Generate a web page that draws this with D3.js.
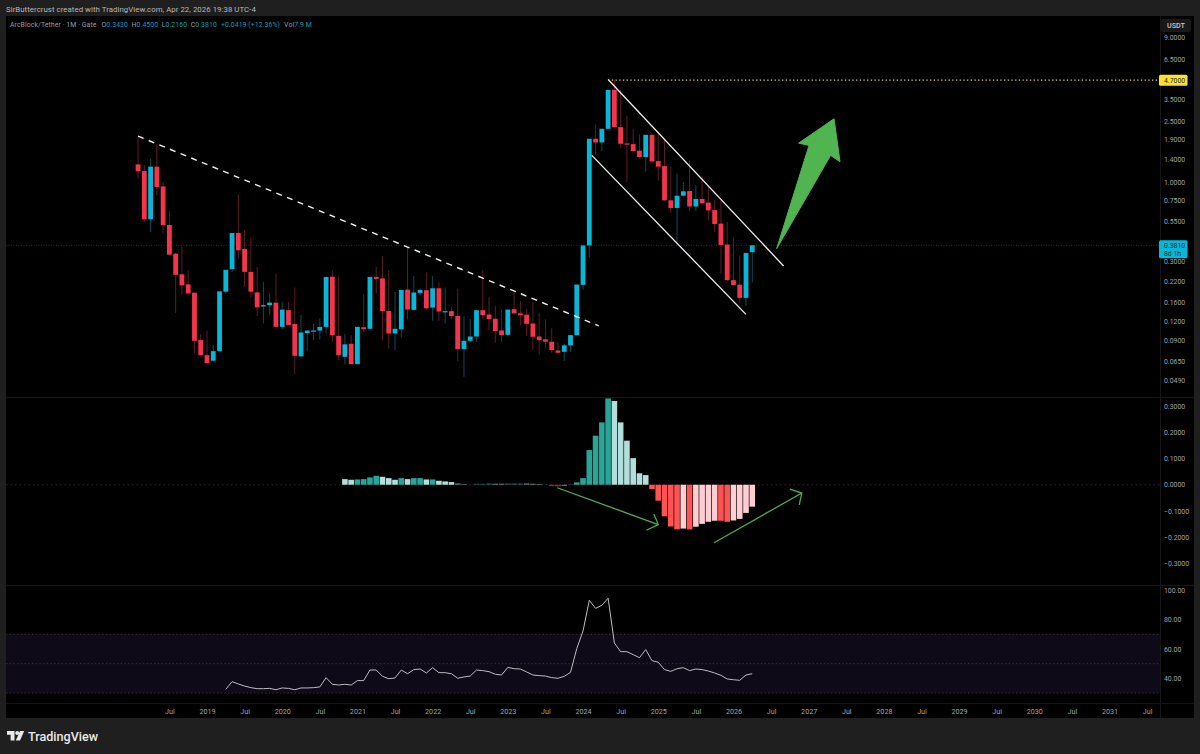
<!DOCTYPE html>
<html>
<head>
<meta charset="utf-8">
<script src="https://cdn.jsdelivr.net/npm/d3@7"></script>
<style>
  html, body { margin: 0; padding: 0; background: #1f1f1f; }
  svg { display: block; }
  text { font-family: Roboto, "Liberation Sans", sans-serif; }
</style>
</head>
<body>
<div id="chart"></div>
<script>
// Monthly candles, index 0 = Feb 2018, index 98 = Apr 2026
const candleOpen = [1.305,1.179,0.566,1.260,0.933,0.519,0.335,0.245,0.210,0.185,0.0900,0.0715,0.0657,0.0760,0.188,0.265,0.459,0.360,0.254,0.186,0.150,0.153,0.159,0.110,0.142,0.115,0.0702,0.100,0.103,0.104,0.110,0.236,0.0960,0.0698,0.0850,0.0624,0.1094,0.1068,0.2354,0.230,0.140,0.0995,0.106,0.194,0.1425,0.1846,0.1922,0.1475,0.198,0.1383,0.1397,0.130,0.0784,0.089,0.095,0.1418,0.1328,0.1245,0.1042,0.0975,0.144,0.135,0.1325,0.1158,0.095,0.0910,0.0877,0.0768,0.0752,0.083,0.097,0.2085,0.380,1.927,1.822,2.243,4.058,2.30,1.795,1.777,1.606,1.458,2.047,1.372,1.272,0.755,0.672,0.810,0.870,0.687,0.771,0.729,0.651,0.530,0.385,0.224,0.209,0.171,0.343];
const candleHigh = [1.996,1.298,1.422,1.768,0.997,0.642,0.339,0.372,0.260,0.185,0.0984,0.104,0.0834,0.0760,0.218,0.295,0.825,0.478,0.428,0.274,0.218,0.183,0.248,0.160,0.160,0.200,0.132,0.105,0.115,0.125,0.128,0.260,0.237,0.0984,0.0970,0.0922,0.181,0.197,0.274,0.322,0.2605,0.1875,0.143,0.372,0.238,0.197,0.252,0.239,0.218,0.200,0.149,0.197,0.130,0.1238,0.135,0.2605,0.1737,0.1515,0.1432,0.1295,0.1893,0.163,0.1454,0.161,0.1362,0.1232,0.1074,0.0877,0.0855,0.0834,0.113,0.311,0.466,2.396,2.08,2.994,4.73,4.06,2.745,2.243,2.047,1.786,2.08,2.08,1.927,1.272,1.133,0.997,1.386,0.948,1.087,0.925,0.755,0.755,0.543,0.432,0.327,0.235,0.35,0.45];
const candleLow = [1.049,0.544,0.466,0.814,0.455,0.326,0.136,0.180,0.183,0.0734,0.0715,0.0622,0.0650,0.0760,0.183,0.254,0.311,0.202,0.172,0.130,0.116,0.132,0.110,0.106,0.113,0.0535,0.0698,0.0760,0.0900,0.0910,0.0995,0.0877,0.0664,0.0622,0.0624,0.0624,0.102,0.106,0.183,0.0900,0.0790,0.0772,0.0937,0.1232,0.1418,0.1778,0.1418,0.1208,0.1208,0.1158,0.1232,0.0653,0.0515,0.0877,0.0877,0.1232,0.1047,0.0864,0.0877,0.097,0.135,0.113,0.0955,0.0772,0.0723,0.079,0.0742,0.0727,0.0656,0.0752,0.097,0.194,0.316,1.495,1.598,2.243,2.30,1.677,0.997,1.59,1.444,1.173,1.351,1.02,0.748,0.623,0.40,0.802,0.639,0.639,0.718,0.557,0.466,0.247,0.221,0.208,0.159,0.151,0.216];
const candleClose = [1.179,0.566,1.260,0.925,0.517,0.330,0.243,0.207,0.183,0.0890,0.0715,0.0633,0.0760,0.189,0.262,0.459,0.353,0.254,0.188,0.148,0.153,0.159,0.110,0.143,0.113,0.0708,0.101,0.104,0.104,0.110,0.235,0.0970,0.0715,0.0843,0.0624,0.110,0.1063,0.2354,0.2285,0.1397,0.0995,0.1068,0.1931,0.1432,0.1856,0.1931,0.146,0.198,0.139,0.1397,0.1295,0.0784,0.0890,0.095,0.1418,0.1314,0.1238,0.1031,0.097,0.1432,0.135,0.1314,0.1152,0.0946,0.0900,0.0877,0.0772,0.0742,0.0830,0.097,0.2095,0.380,1.927,1.822,2.243,4.058,2.30,1.786,1.777,1.598,1.458,2.047,1.365,1.26,0.755,0.672,0.810,0.866,0.687,0.771,0.722,0.648,0.527,0.383,0.224,0.208,0.171,0.339,0.381];

// MACD histogram, first bar is index 33
const macdStart = 33;
const macdValues = [0.0216,0.019,0.0203,0.0216,0.028,0.0343,0.0305,0.0254,0.019,0.0254,0.0216,0.0254,0.0254,0.0203,0.0203,0.0152,0.0127,0.0102,0.0051,0.0025,0.0004,0.0038,0.0038,0.005,0.004,0.004,0.005,0.005,0.005,0.005,0.004,0.0025,0.0012,-0.005,-0.006,-0.004,-0.001,0.009,0.0254,0.133,0.188,0.239,0.331,0.321,0.239,0.169,0.102,0.044,0.037,-0.0165,-0.061,-0.121,-0.160,-0.171,-0.168,-0.171,-0.161,-0.150,-0.142,-0.138,-0.138,-0.142,-0.137,-0.131,-0.108,-0.084];
const macdShade = ["f","f","s","s","s","s","f","f","f","s","f","s","s","f","s","f","f","f","f","f","s","s","s","s","f","f","s","s","s","f","f","f","s","s","s","f","f","s","s","s","s","s","s","f","f","f","f","f","f","s","s","s","s","s","f","s","f","f","f","f","s","s","f","f","f","f"];

// RSI, first point is index 14
const rsiStart = 14;
const rsiValues = [32.6,37.8,36.2,34.8,33.7,33.0,33.0,33.2,32.3,33.5,33.2,32.3,33.5,33.5,33.7,34.2,40.5,36.0,35.5,36.0,35.5,38.5,38.5,45.7,45.7,41.4,39.8,40.3,45.7,43.2,46.0,46.4,43.7,47.3,43.9,43.9,43.2,40.1,41.0,41.6,45.7,45.3,44.6,42.8,42.3,47.5,46.6,46.4,44.4,42.3,41.9,41.6,40.5,40.1,41.4,44.1,60.3,72.3,93.2,87.7,89.8,94.6,64.1,58.2,58.2,56.2,54.1,59.6,52.1,51.0,46.0,44.8,46.6,47.3,45.3,46.4,46.0,45.0,43.7,42.1,39.6,39.1,38.7,42.3,43.2];

// Tick labels
const timeTickIndex = [5,11,17,23,29,35,41,47,53,59,65,71,77,83,89,95,101,107,113,119,125,131,137,143,149,155,161];
const timeTickLabels = ["Jul","2019","Jul","2020","Jul","2021","Jul","2022","Jul","2023","Jul","2024","Jul","2025","Jul","2026","Jul","2027","Jul","2028","Jul","2029","Jul","2030","Jul","2031","Jul"];
const priceTicks = [9,6.5,4.8,3.5,2.5,1.9,1.4,1,0.75,0.55,0.3,0.22,0.16,0.12,0.09,0.065,0.049];
const macdTicks = [0.3,0.2,0.1,0,-0.1,-0.2,-0.3];
const rsiTicks = [100,80,60,40];
const rsiBands = [70,50,30];

// Drawings, as [month index, price] or [month index, macd]
const descendingLine = [[0,2.006],[73.5,0.1118]];
const channelUpper = [[75,4.75],[103,0.278]];
const channelLower = [[72.4,1.496],[97,0.133]];
const highLevel = 4.7;
const highLevelFrom = 75;
const lastPrice = 0.381;
const bigArrow = [[101.9,0.362],[110.5,1.496],[112,1.359],[111.05,2.613],[105.4,1.803],[107.06,1.741]];
const macdArrows = [
  {shaft: [[66.9,-0.0115],[83,-0.1527]], head: [[81.1,-0.1744],[83,-0.1527],[82.3,-0.1118]]},
  {shaft: [[91.9,-0.2225],[105.9,-0.0317]], head: [[104,-0.0164],[105.9,-0.0317],[105.5,-0.0775]]}
];

const width = 1200;
const height = 754;
const plot = {left: 6, right: 1160, top: 16, bottom: 718, axisRight: 1194, timeTop: 703};
const panelLines = [397.5, 585.5];
const upColor = "#08b6d8";
const downColor = "#f5344b";
const upWick = "#0b5563";
const downWick = "#6a1f2a";
const axisColor = "#a3a3a3";
const arrowGreen = "#4caf50";
const tickFont = "6.9px";

const svg = d3.select("#chart")
  .append("svg")
    .attr("viewBox", [0, 0, width, height])
    .attr("width", width)
    .attr("height", height);

svg.append("rect")
    .attr("x", plot.left).attr("y", plot.top)
    .attr("width", plot.axisRight - plot.left)
    .attr("height", plot.bottom - plot.top)
    .attr("fill", "#000");

// Scales
const xScale = d3.scaleLinear().domain([11, 155]).range([207, 1109.5]);
const yPrice = d3.scaleLog().domain([0.049, 9]).range([380, 37.5]);
const yMacd = d3.scaleLinear().domain([-0.3, 0.3]).range([563, 406.5]);
const yRsi = d3.scaleLinear().domain([40, 100]).range([678.4, 590.3]);

// Panel separators
svg.selectAll(".panel-line")
  .data(panelLines)
  .join("line")
    .attr("class", "panel-line")
    .attr("x1", plot.left).attr("x2", plot.axisRight)
    .attr("y1", d => d).attr("y2", d => d)
    .attr("stroke", "#15151f");
svg.append("line")
    .attr("x1", plot.right + 0.5).attr("x2", plot.right + 0.5)
    .attr("y1", plot.top).attr("y2", plot.bottom)
    .attr("stroke", "#161616");
svg.append("line")
    .attr("x1", plot.left).attr("x2", plot.axisRight)
    .attr("y1", plot.timeTop + 0.5).attr("y2", plot.timeTop + 0.5)
    .attr("stroke", "#141414");

// Last price line
svg.append("line")
    .attr("x1", plot.left).attr("x2", plot.right)
    .attr("y1", yPrice(lastPrice)).attr("y2", yPrice(lastPrice))
    .attr("stroke", "#0a3f49")
    .attr("stroke-dasharray", "1 1.5");

// Candles
const candles = candleOpen.map((open, i) => ({
  i, open, high: candleHigh[i], low: candleLow[i], close: candleClose[i], up: candleClose[i] >= open
}));
const candleG = svg.append("g").attr("class", "candles");
candleG.selectAll(".wick")
  .data(candles)
  .join("line")
    .attr("class", "wick")
    .attr("x1", d => xScale(d.i)).attr("x2", d => xScale(d.i))
    .attr("y1", d => yPrice(d.high)).attr("y2", d => yPrice(d.low))
    .attr("stroke", d => d.up ? upWick : downWick)
    .attr("stroke-width", 0.9);
candleG.selectAll(".body")
  .data(candles)
  .join("rect")
    .attr("class", "body")
    .attr("x", d => xScale(d.i) - 2.4)
    .attr("width", 4.8)
    .attr("y", d => yPrice(Math.max(d.open, d.close)))
    .attr("height", d => Math.max(1.2, Math.abs(yPrice(d.open) - yPrice(d.close))))
    .attr("fill", d => d.up ? upColor : downColor);

// Price drawings
const priceLine = d3.line().x(d => xScale(d[0])).y(d => yPrice(d[1]));
svg.append("path")
    .attr("d", priceLine(descendingLine))
    .attr("fill", "none")
    .attr("stroke", "#f2f2f2")
    .attr("stroke-width", 1.4)
    .attr("stroke-dasharray", "6 5.5");
[channelUpper, channelLower].forEach(channel => {
  svg.append("path")
      .attr("d", priceLine(channel))
      .attr("fill", "none")
      .attr("stroke", "#f2f2f2")
      .attr("stroke-width", 1.3);
});
svg.append("line")
    .attr("x1", xScale(highLevelFrom)).attr("x2", plot.right)
    .attr("y1", yPrice(highLevel)).attr("y2", yPrice(highLevel))
    .attr("stroke", "#e8cf5a")
    .attr("stroke-width", 1.2)
    .attr("stroke-dasharray", "1.3 2.4");
svg.append("path")
    .attr("d", priceLine(bigArrow) + "Z")
    .attr("fill", "#50b551")
    .attr("stroke", "#50b551")
    .attr("stroke-linejoin", "round");

// MACD histogram
const macdColor = (v, shade) => {
  if (v >= 0) return shade === "s" ? "#2ba498" : "#b2dfdb";
  return shade === "s" ? "#ff5252" : "#ffcdd2";
};
const macdData = macdValues.map((v, i) => ({i: macdStart + i, v, shade: macdShade[i]}));
svg.append("line")
    .attr("x1", plot.left).attr("x2", plot.right)
    .attr("y1", yMacd(0)).attr("y2", yMacd(0))
    .attr("stroke", "#262626")
    .attr("stroke-dasharray", "1.5 3");
svg.selectAll(".macd-bar")
  .data(macdData)
  .join("rect")
    .attr("class", "macd-bar")
    .attr("x", d => xScale(d.i) - 2.8)
    .attr("width", 5.6)
    .attr("y", d => Math.min(yMacd(d.v), yMacd(0)))
    .attr("height", d => Math.abs(yMacd(d.v) - yMacd(0)))
    .attr("fill", d => macdColor(d.v, d.shade))
    .attr("opacity", d => Math.abs(d.v) < 0.007 ? 0.55 : 1);

const macdLine = d3.line().x(d => xScale(d[0])).y(d => yMacd(d[1]));
macdArrows.forEach(arrow => {
  [arrow.shaft, arrow.head].forEach(part => {
    svg.append("path")
        .attr("d", macdLine(part))
        .attr("fill", "none")
        .attr("stroke", arrowGreen)
        .attr("stroke-width", 1.3);
  });
});

// RSI band and line
svg.append("rect")
    .attr("x", plot.left).attr("width", plot.right - plot.left)
    .attr("y", yRsi(rsiBands[0]))
    .attr("height", yRsi(rsiBands[2]) - yRsi(rsiBands[0]))
    .attr("fill", "#0e0a18");
svg.selectAll(".rsi-band")
  .data(rsiBands)
  .join("line")
    .attr("class", "rsi-band")
    .attr("x1", plot.left).attr("x2", plot.right)
    .attr("y1", d => yRsi(d)).attr("y2", d => yRsi(d))
    .attr("stroke", (d, i) => i === 2 ? "#3a2a34" : "#343038")
    .attr("stroke-dasharray", "1.5 2.2");
const rsiLine = d3.line()
  .x((d, i) => xScale(rsiStart + i))
  .y(d => yRsi(d));
svg.append("path")
    .attr("d", rsiLine(rsiValues))
    .attr("fill", "none")
    .attr("stroke", "#bcbcbc")
    .attr("stroke-width", 1);

// Axes
const styleAxis = (g, dx) => {
  g.select(".domain").remove();
  g.selectAll(".tick line").remove();
  g.selectAll(".tick text")
    .attr("x", dx)
    .attr("fill", axisColor)
    .style("font-size", tickFont);
};
svg.append("g")
    .attr("transform", `translate(${plot.right},0)`)
    .call(d3.axisRight(yPrice).tickValues(priceTicks).tickFormat(d3.format(".4f")))
    .call(g => styleAxis(g, 4));
svg.append("g")
    .attr("transform", `translate(${plot.right},0)`)
    .call(d3.axisRight(yMacd).tickValues(macdTicks).tickFormat(d3.format(".4f")))
    .call(g => styleAxis(g, 4));
svg.append("g")
    .attr("transform", `translate(${plot.right},0)`)
    .call(d3.axisRight(yRsi).tickValues(rsiTicks).tickFormat(d3.format(".2f")))
    .call(g => styleAxis(g, 4));
svg.append("g")
    .attr("transform", "translate(0,711)")
    .call(d3.axisBottom(xScale).tickValues(timeTickIndex).tickFormat((d, i) => timeTickLabels[i]))
    .call(g => {
      g.select(".domain").remove();
      g.selectAll(".tick line").remove();
      g.selectAll(".tick text")
        .attr("y", 0).attr("dy", "0.35em")
        .attr("fill", axisColor)
        .style("font-size", "7.2px");
    });

// Price labels on the axis
const priceBadge = (y, h, fill, lines) => {
  svg.append("rect")
      .attr("x", 1159).attr("y", y - h / 2 + (lines.length > 1 ? 4 : 0))
      .attr("width", 28.5).attr("height", h).attr("rx", 1.5)
      .attr("fill", fill);
  lines.forEach((line, i) => {
    svg.append("text")
        .text(line)
        .attr("x", 1164)
        .attr("y", y + i * 8.5)
        .attr("dy", "0.35em")
        .attr("fill", "#10302f")
        .style("font-size", tickFont);
  });
};
priceBadge(yPrice(highLevel), 11, "#ffe135", [d3.format(".4f")(highLevel)]);
priceBadge(yPrice(lastPrice), 18, "#08b6d8", [d3.format(".4f")(lastPrice), "8d 1h"]);

// USDT box
svg.append("rect")
    .attr("x", 1161).attr("y", 19).attr("width", 30).attr("height", 13).attr("rx", 2)
    .attr("fill", "#191919");
svg.append("text")
    .text("USDT")
    .attr("x", 1176).attr("y", 25.5).attr("dy", "0.35em")
    .attr("text-anchor", "middle")
    .attr("fill", "#c9c9c9")
    .style("font-size", "7.2px")
    .style("font-weight", 500);

// Header texts
svg.append("text")
    .text("SirButtercrust created with TradingView.com, Apr 22, 2026 19:38 UTC-4")
    .attr("x", 6).attr("y", 9).attr("dy", "0.35em")
    .attr("fill", "#b8b8b8")
    .style("font-size", "7.8px")
    .style("letter-spacing", "0.06px");

const legendParts = [
  {t: "ArcBlock/Tether · 1M · Gate", c: "#9d9d9d", gap: 0},
  {t: "O", c: "#9d9d9d", gap: 5},
  {t: "0.3430", c: "#0b9fb9", gap: 0},
  {t: "H", c: "#9d9d9d", gap: 3.5},
  {t: "0.4500", c: "#0b9fb9", gap: 0},
  {t: "L", c: "#9d9d9d", gap: 3.5},
  {t: "0.2160", c: "#0b9fb9", gap: 0},
  {t: "C", c: "#9d9d9d", gap: 3.5},
  {t: "0.3810", c: "#0b9fb9", gap: 0},
  {t: "+0.0419 (+12.36%)", c: "#0b9fb9", gap: 4},
  {t: "Vol", c: "#9d9d9d", gap: 4},
  {t: "7.9 M", c: "#0b9fb9", gap: 0}
];
const legend = svg.append("text")
    .attr("x", 10).attr("y", 24.5).attr("dy", "0.35em")
    .style("font-size", "6.9px")
    .style("letter-spacing", "0.08px");
legendParts.forEach(part => {
  legend.append("tspan")
      .text(part.t)
      .attr("dx", part.gap)
      .attr("fill", part.c);
});

// TradingView mark
const mark = svg.append("g")
    .attr("transform", "translate(7,731)")
    .attr("fill", "#e9e9e9");
mark.append("path").attr("d", "M0 0H7.5V9.6H3.6V3.8H0Z");
mark.append("circle").attr("cx", 10.2).attr("cy", 2).attr("r", 2);
mark.append("path").attr("d", "M13 0H17.2L13 9.6H8.8Z");
svg.append("text")
    .text("TradingView")
    .attr("x", 28).attr("y", 736.5).attr("dy", "0.35em")
    .attr("fill", "#e9e9e9")
    .style("font-size", "12.6px")
    .style("font-weight", 500);
</script>
</body>
</html>
